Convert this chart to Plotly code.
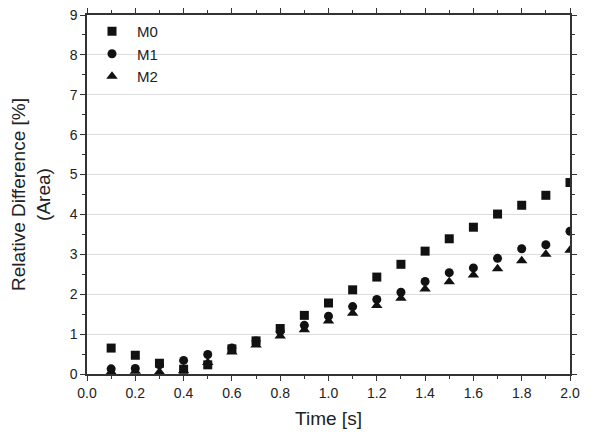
import plotly.graph_objects as go

time_s = [0.1, 0.2, 0.3, 0.4, 0.5, 0.6, 0.7, 0.8, 0.9, 1.0,
          1.1, 1.2, 1.3, 1.4, 1.5, 1.6, 1.7, 1.8, 1.9, 2.0]
m0 = [0.65, 0.47, 0.27, 0.12, 0.23, 0.63, 0.83, 1.14, 1.47, 1.78,
      2.11, 2.43, 2.75, 3.08, 3.39, 3.68, 4.01, 4.23, 4.48, 4.80]
m1 = [0.13, 0.14, 0.23, 0.34, 0.49, 0.65, 0.83, 1.07, 1.22, 1.45,
      1.69, 1.87, 2.05, 2.32, 2.54, 2.66, 2.90, 3.14, 3.24, 3.58]
m2 = [0.05, 0.07, 0.05, 0.08, 0.29, 0.55, 0.73, 0.95, 1.11, 1.33,
      1.52, 1.72, 1.90, 2.13, 2.31, 2.48, 2.64, 2.84, 3.00, 3.10]

series = [("M0", m0, "square", 9),
          ("M1", m1, "circle", 9),
          ("M2", m2, "triangle-up", 10)]

fig = go.Figure()
for name, vals, sym, sz in series:
    fig.add_trace(go.Scatter(x=time_s, y=vals, mode="markers", name=name,
                             marker=dict(symbol=sym, size=sz, color="#111111")))

font = dict(family="Liberation Sans, Arial, sans-serif", color="#222222")
axis_common = dict(showline=True, mirror="ticks", linecolor="#333333", linewidth=1.5,
                   tickcolor="#333333", ticklen=5, tickwidth=1.2, zeroline=False,
                   tickfont=dict(size=14, **font), ticklabeloverflow="allow",
                   automargin=False)

fig.update_layout(
    width=596, height=436,
    margin=dict(l=79, r=34, t=7, b=70),
    paper_bgcolor="white", plot_bgcolor="white",
    font=font,
    showlegend=True,
    legend=dict(x=0.0, y=1.0, xanchor="left", yanchor="top",
                bgcolor="rgba(0,0,0,0)", font=dict(size=15, **font),
                itemwidth=40, tracegroupgap=0),
    xaxis=dict(range=[0, 2.0], dtick=0.2, tickformat=".1f", ticks="outside",
               showgrid=False,
               minor=dict(dtick=0.1, ticks="outside", ticklen=3, tickcolor="#333333"),
               title=dict(text="Time [s]", font=dict(size=19, **font), standoff=12),
               **axis_common),
    yaxis=dict(range=[0, 9], dtick=1, ticks="outside",
               showgrid=True, gridcolor="#dddddd", gridwidth=1.2,
               minor=dict(dtick=0.5, ticks="outside", ticklen=3, tickcolor="#333333"),
               title=dict(text="Relative Difference [%]<br>(Area)",
                          font=dict(size=19, **font), standoff=16),
               **axis_common),
)

fig.write_html("out.html")
